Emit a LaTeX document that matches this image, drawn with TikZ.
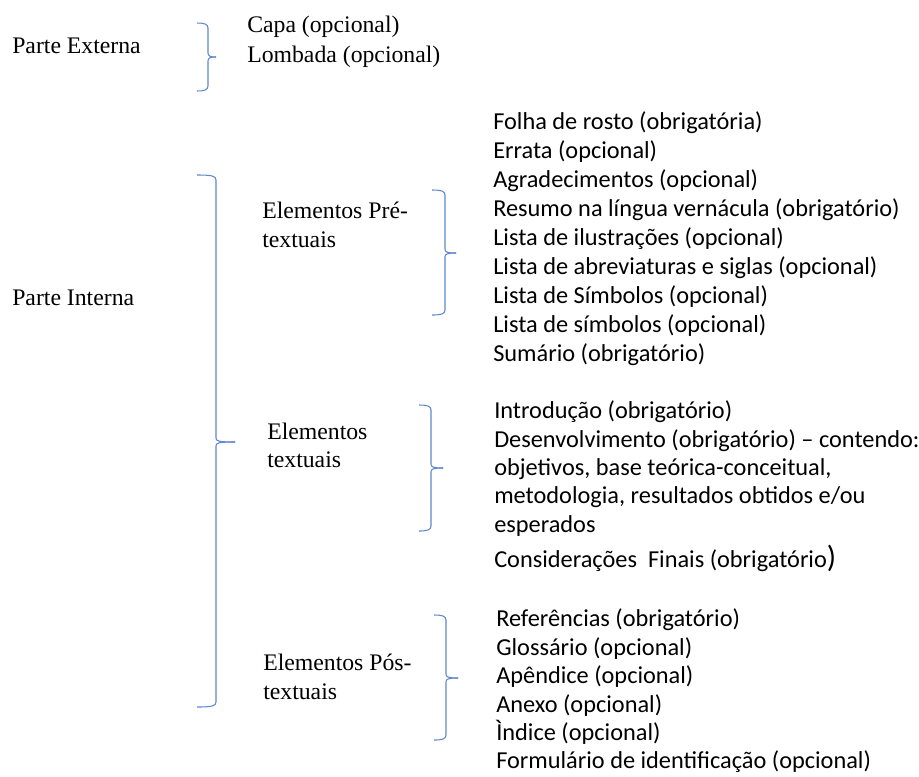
\documentclass[tikz,border=0pt]{standalone}
\usepackage{fontspec}
\setmainfont{Liberation Serif}
\newfontfamily\calib{Carlito}
\definecolor{braceblue}{HTML}{4472C4}
\newcommand{\mybrace}[6]{%
  \draw[bracestyle] (#1,#4) .. controls ({#2-4},#4) and (#2,{#4+1}) .. (#2,{#4+5}) -- (#2,{#5-4}) .. controls (#2,{#5-1}) and ({#2+2},#5) .. (#3,#5);
  \draw[bracestyle] (#3,#5) .. controls ({#2+2},#5) and (#2,{#5+1}) .. (#2,{#5+4}) -- (#2,{#6-5}) .. controls (#2,{#6-1}) and ({#2-4},#6) .. (#1,#6);}
\begin{document}
\begin{tikzpicture}[x=0.75pt,y=-0.75pt,
  bracestyle/.style={draw=braceblue!85,line width=0.8pt},
  serif/.style={anchor=base west,inner sep=0pt,font=\fontsize{17.8}{21}\selectfont},
  item/.style={anchor=base west,inner sep=0pt,font=\calib\fontsize{18.25}{21}\selectfont}]
\useasboundingbox[fill=white] (0,0) rectangle (919,776);
% left labels
\node[serif] (ext) at (12,53) {Parte Externa};
\node[serif] (int) at (12,305) {Parte Interna};
\node[serif] (capa) at (247,32) {Capa (opcional)};
\node[serif] (lomb) at (247,62) {Lombada (opcional)};
\node[serif] (pre1) at (262,218) {Elementos Pré-};
\node[serif] (pre2) at (262,247) {textuais};
\node[serif] (tex1) at (267,439) {Elementos};
\node[serif] (tex2) at (267,467) {textuais};
\node[serif] (pos1) at (263,670) {Elementos Pós-};
\node[serif] (pos2) at (263,699) {textuais};
% braces
\mybrace{197}{208}{216}{23}{57}{91}
\mybrace{197}{216}{235}{175}{442}{707}
\mybrace{432}{445}{456}{190}{253}{315}
\mybrace{419}{431}{443}{405}{468}{531}
\mybrace{434}{446}{458}{615}{678}{740}
% pre-textual list
\node[item] (a1) at (493,129) {Folha de rosto (obrigatória)};
\node[item] (a2) at (493,158) {Errata (opcional)};
\node[item] (a3) at (493,187) {Agradecimentos (opcional)};
\node[item] (a4) at (493,216) {Resumo na língua vernácula (obrigatório)};
\node[item] (a5) at (493,245) {Lista de ilustrações (opcional)};
\node[item] (a6) at (493,274) {Lista de abreviaturas e siglas (opcional)};
\node[item] (a7) at (493,303) {Lista de Símbolos (opcional)};
\node[item] (a8) at (493,332) {Lista de símbolos (opcional)};
\node[item] (a9) at (493,361) {Sumário (obrigatório)};
% textual list
\node[item] (b1) at (494,418) {Introdução (obrigatório)};
\node[item] (b2) at (494,447) {Desenvolvimento (obrigatório) – contendo:};
\node[item] (b3) at (494,475) {objetivos, base teórica-conceitual,};
\node[item] (b4) at (494,503) {metodologia, resultados obtidos e/ou};
\node[item] (b5) at (494,532) {esperados};
\node[item] (b6) at (494,567) {Considerações\ \ Finais (obrigatório{\fontsize{23}{24}\selectfont )}};
% post-textual list
\node[item] (c1) at (496,626) {Referências (obrigatório)};
\node[item] (c2) at (496,655) {Glossário (opcional)};
\node[item] (c3) at (496,683) {Apêndice (opcional)};
\node[item] (c4) at (496,712) {Anexo (opcional)};
\node[item] (c5) at (496,740) {Ìndice (opcional)};
\node[item] (c6) at (496,768) {Formulário de identificação (opcional)};
\end{tikzpicture}
\end{document}
